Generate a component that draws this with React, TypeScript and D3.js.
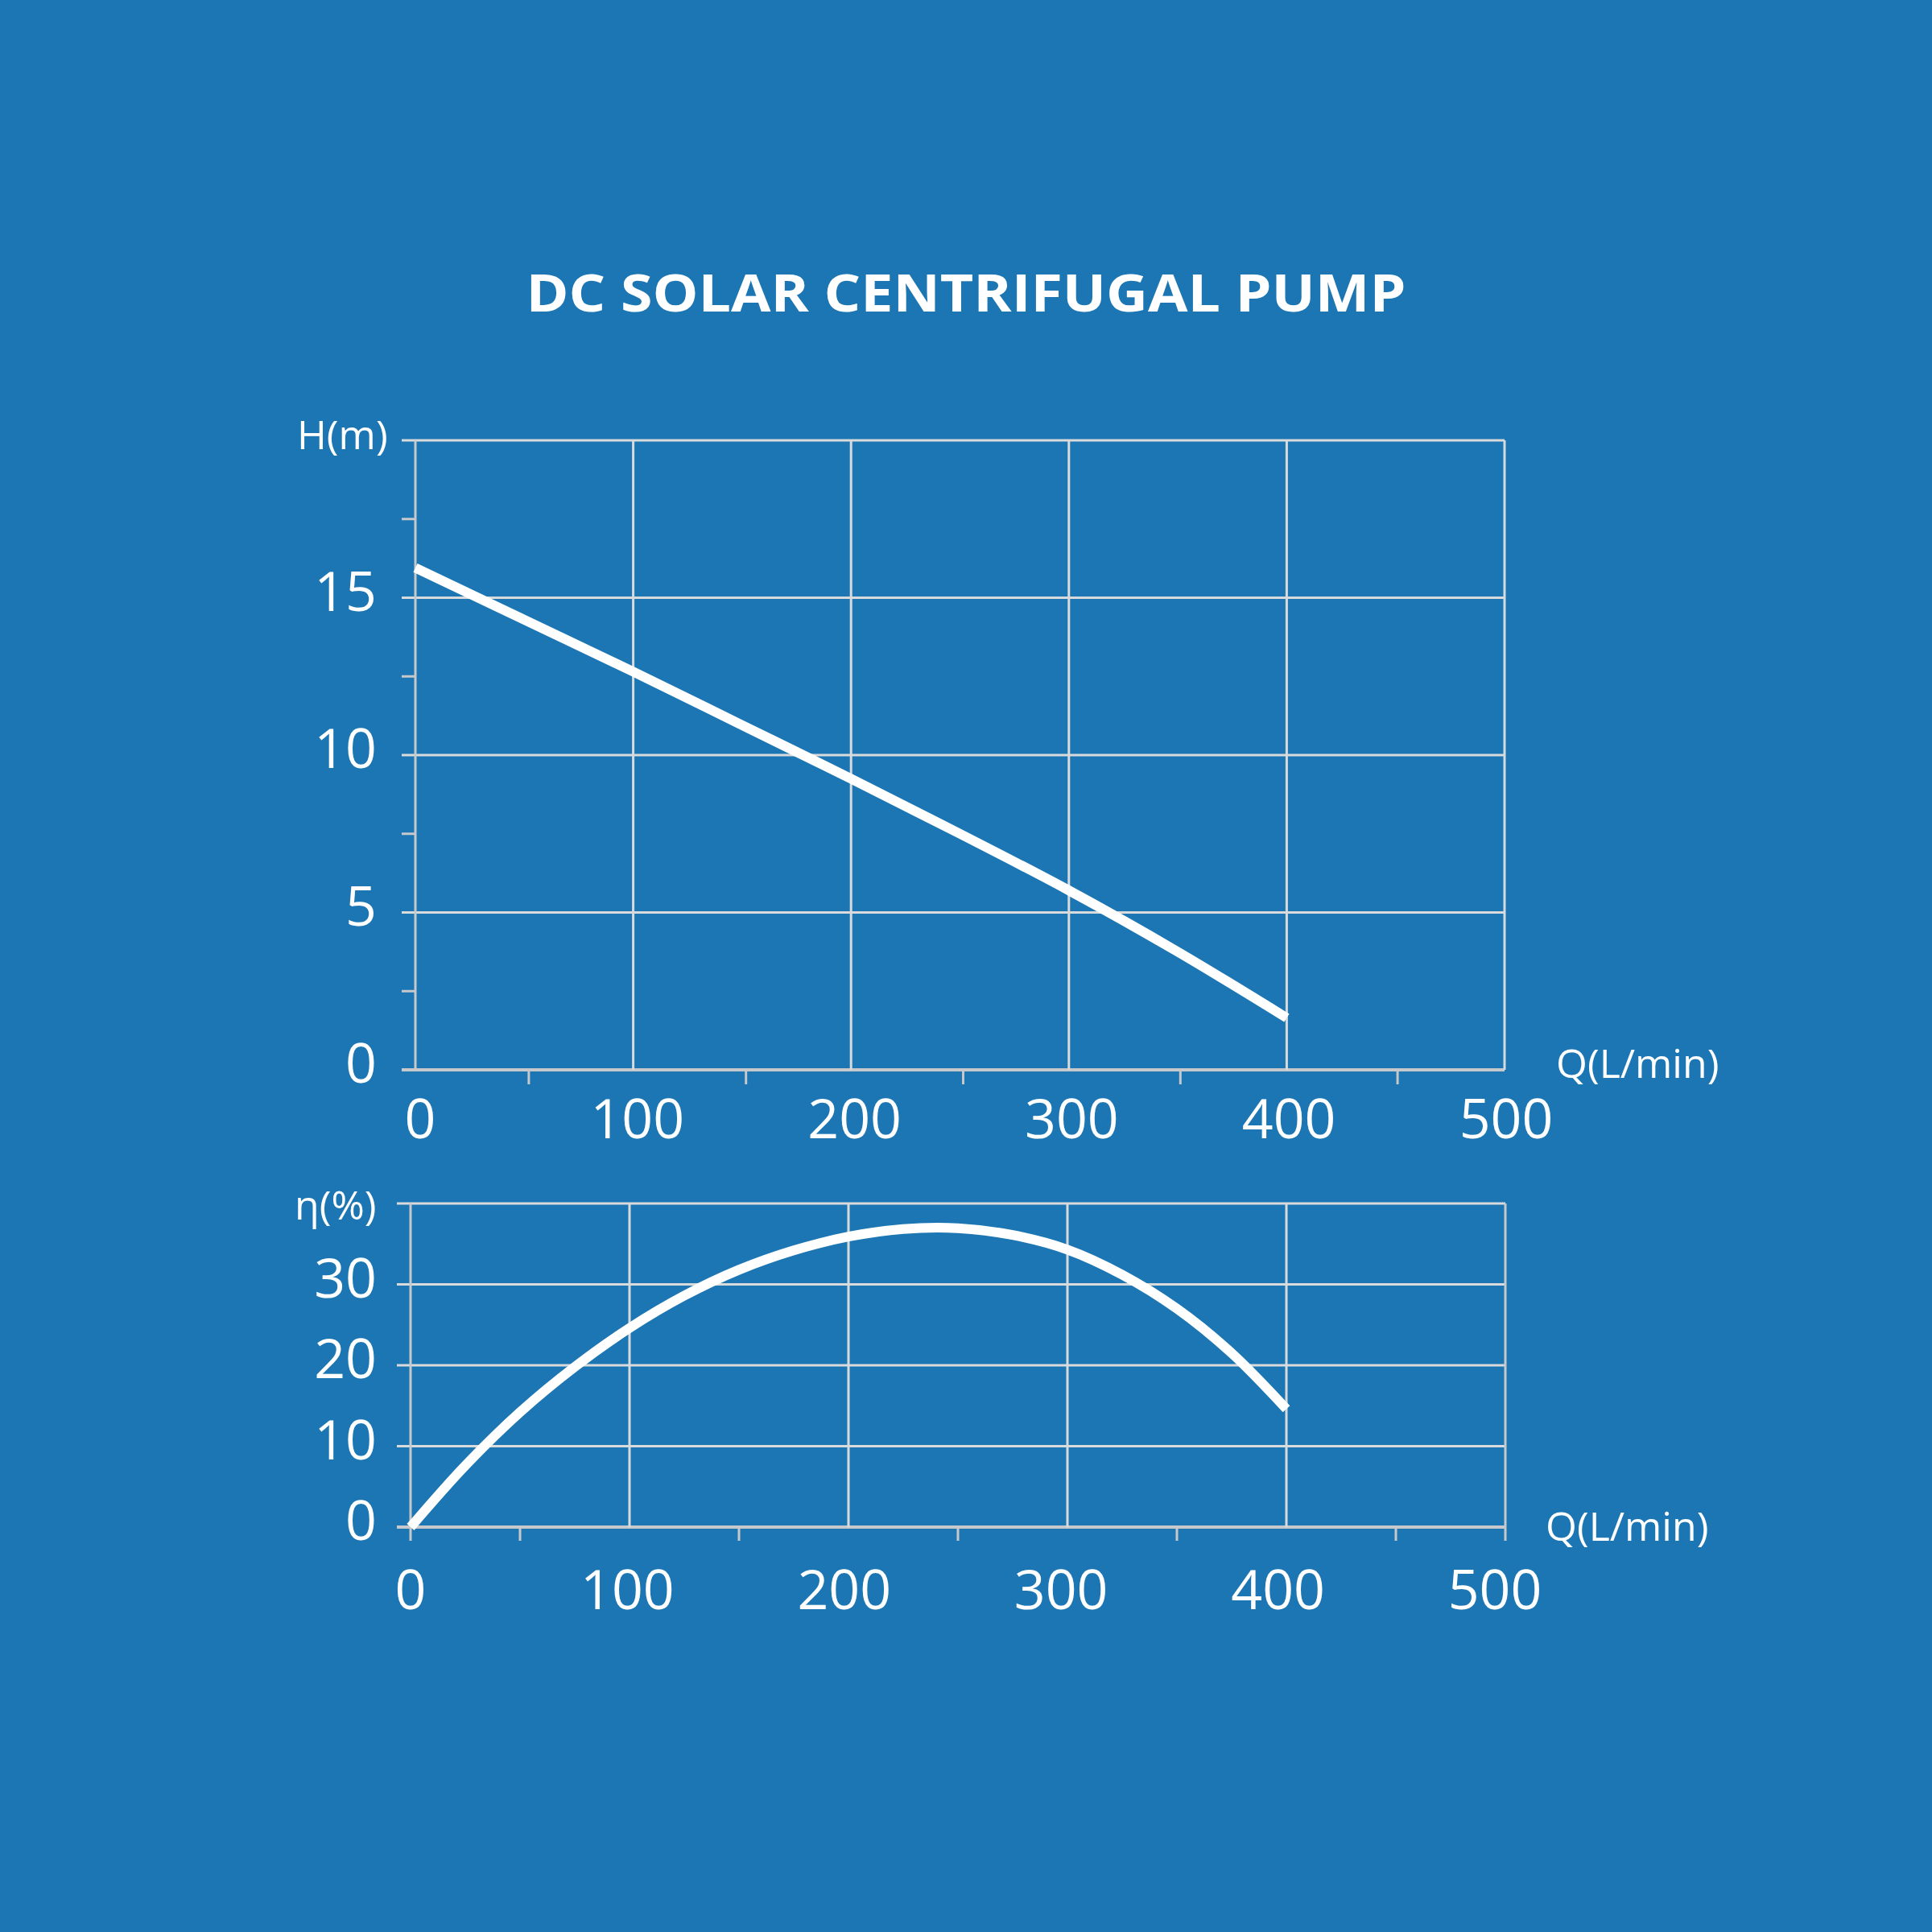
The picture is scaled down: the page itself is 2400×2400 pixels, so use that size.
import React from "react";
import * as d3 from "d3";

// ---- data ----
const headQ = [0, 50, 100, 150, 200, 250, 300, 350, 400];
const headH = [15.95, 14.3, 12.65, 10.95, 9.25, 7.5, 5.7, 3.75, 1.65];

const effQ = [0, 25, 50, 75, 100, 125, 150, 175, 200, 225, 250, 275, 300, 325, 350, 375, 400];
const effE = [0, 7.6, 14.2, 19.8, 24.6, 28.6, 31.8, 34.2, 35.9, 36.85, 36.95, 36.1, 34.3, 31.2, 27.0, 21.5, 14.6];

const xTicks = [0, 100, 200, 300, 400, 500];
const xMinor = [50, 150, 250, 350, 450];
const hTicks = [0, 5, 10, 15, 20];
const hLabels = [0, 5, 10, 15];
const hMinor = [2.5, 7.5, 12.5, 17.5];
const eTicks = [0, 10, 20, 30, 40];
const eLabels = [0, 10, 20, 30];

const TITLE = "DC SOLAR CENTRIFUGAL PUMP";

const BG = "#1b76b3";
const GRID = "#d9dadc";
const AXIS = "#c6c8cb";
const FONT = "'Open Sans', 'Noto Sans', sans-serif";

export default function App() {
  // top chart scales
  const tx = d3.scaleLinear().domain([0, 500]).range([516, 1869]);
  const txl = d3.scaleLinear().domain([0, 500]).range([522, 1871]);
  const ty = d3.scaleLinear().domain([0, 20]).range([1329, 547]);
  // bottom chart scales
  const bx = d3.scaleLinear().domain([0, 500]).range([510, 1870]);
  const bxl = d3.scaleLinear().domain([0, 500]).range([510, 1857]);
  const by = d3.scaleLinear().domain([0, 40]).range([1897, 1495]);

  const headLine = d3
    .line<number>()
    .x((_, i) => tx(headQ[i]))
    .y((d) => ty(d))
    .curve(d3.curveCatmullRom.alpha(0.5))(headH) as string;

  const effLine = d3
    .line<number>()
    .x((_, i) => bx(effQ[i]))
    .y((d) => by(d))
    .curve(d3.curveCatmullRom.alpha(0.5))(effE) as string;

  const [tx0, tx1] = tx.range();
  const [ty0, ty1] = ty.range();
  const [bx0, bx1] = bx.range();
  const [by0, by1] = by.range();

  return (
    <svg
      width={2400}
      height={2400}
      viewBox="0 0 2400 2400"
      style={{ position: "absolute", left: 0, top: 0, display: "block" }}
    >
      <rect x={0} y={0} width={2400} height={2400} fill={BG} />
      <text
        x={1200}
        y={387}
        textAnchor="middle"
        fill="#fff"
        fontFamily={FONT}
        fontWeight={700}
        fontSize={65}
        textLength={1093}
        lengthAdjust="spacingAndGlyphs"
      >
        {TITLE}
      </text>

      {/* ---------- TOP CHART ---------- */}
      <g>
        {hTicks.map((h) => (
          <line key={"hg" + h} x1={tx0 - 17} x2={tx1} y1={ty(h)} y2={ty(h)} stroke={h === 0 ? AXIS : GRID} strokeWidth={h === 0 ? 4 : 3} />
        ))}
        {hMinor.map((h) => (
          <line key={"hm" + h} x1={tx0 - 17} x2={tx0} y1={ty(h)} y2={ty(h)} stroke={AXIS} strokeWidth={3} />
        ))}
        {xTicks.slice(1).map((q) => (
          <line key={"vg" + q} x1={tx(q)} x2={tx(q)} y1={ty1} y2={ty0} stroke={GRID} strokeWidth={3} />
        ))}
        <line x1={tx0} x2={tx0} y1={ty1} y2={ty0} stroke={AXIS} strokeWidth={3} />
        {xMinor.map((q) => (
          <line key={"xm" + q} x1={txl(q)} x2={txl(q)} y1={ty0} y2={ty0 + 18} stroke={AXIS} strokeWidth={3} />
        ))}
        {hLabels.map((h) => (
          <text key={"hl" + h} x={468} y={ty(h) + 16} textAnchor="end" fill="#fff" fontFamily={FONT} fontSize={68}>
            {h}
          </text>
        ))}
        {xTicks.map((q) => (
          <text key={"xl" + q} x={txl(q)} y={1414} textAnchor="middle" fill="#fff" fontFamily={FONT} fontSize={68}>
            {q}
          </text>
        ))}
        <text x={369} y={558} fill="#fff" fontFamily={FONT} fontSize={50}>
          H(m)
        </text>
        <text x={1933} y={1339} fill="#fff" fontFamily={FONT} fontSize={50}>
          Q(L/min)
        </text>
        <path d={headLine} fill="none" stroke="#fff" strokeWidth={12} />
      </g>

      {/* ---------- BOTTOM CHART ---------- */}
      <g>
        {eTicks.map((e) => (
          <line key={"eg" + e} x1={bx0 - 17} x2={bx1} y1={by(e)} y2={by(e)} stroke={e === 0 ? AXIS : GRID} strokeWidth={e === 0 ? 4 : 3} />
        ))}
        {xTicks.slice(1, 5).map((q) => (
          <line key={"bvg" + q} x1={bx(q)} x2={bx(q)} y1={by1} y2={by0} stroke={GRID} strokeWidth={3} />
        ))}
        <line x1={bx0} x2={bx0} y1={by1} y2={by0 + 17} stroke={AXIS} strokeWidth={3} />
        <line x1={bx1} x2={bx1} y1={by1} y2={by0 + 17} stroke={AXIS} strokeWidth={3} />
        {xMinor.map((q) => (
          <line key={"bxm" + q} x1={bx(q)} x2={bx(q)} y1={by0} y2={by0 + 17} stroke={AXIS} strokeWidth={3} />
        ))}
        {eLabels.map((e) => (
          <text key={"el" + e} x={468} y={by(e) + 16} textAnchor="end" fill="#fff" fontFamily={FONT} fontSize={68}>
            {e}
          </text>
        ))}
        {xTicks.map((q) => (
          <text key={"bxl" + q} x={bxl(q)} y={1999} textAnchor="middle" fill="#fff" fontFamily={FONT} fontSize={68}>
            {q}
          </text>
        ))}
        <text x={366} y={1515} fill="#fff" fontFamily={FONT} fontSize={50}>
          η(%)
        </text>
        <text x={1920} y={1914} fill="#fff" fontFamily={FONT} fontSize={50}>
          Q(L/min)
        </text>
        <path d={effLine} fill="none" stroke="#fff" strokeWidth={12} />
      </g>
    </svg>
  );
}
